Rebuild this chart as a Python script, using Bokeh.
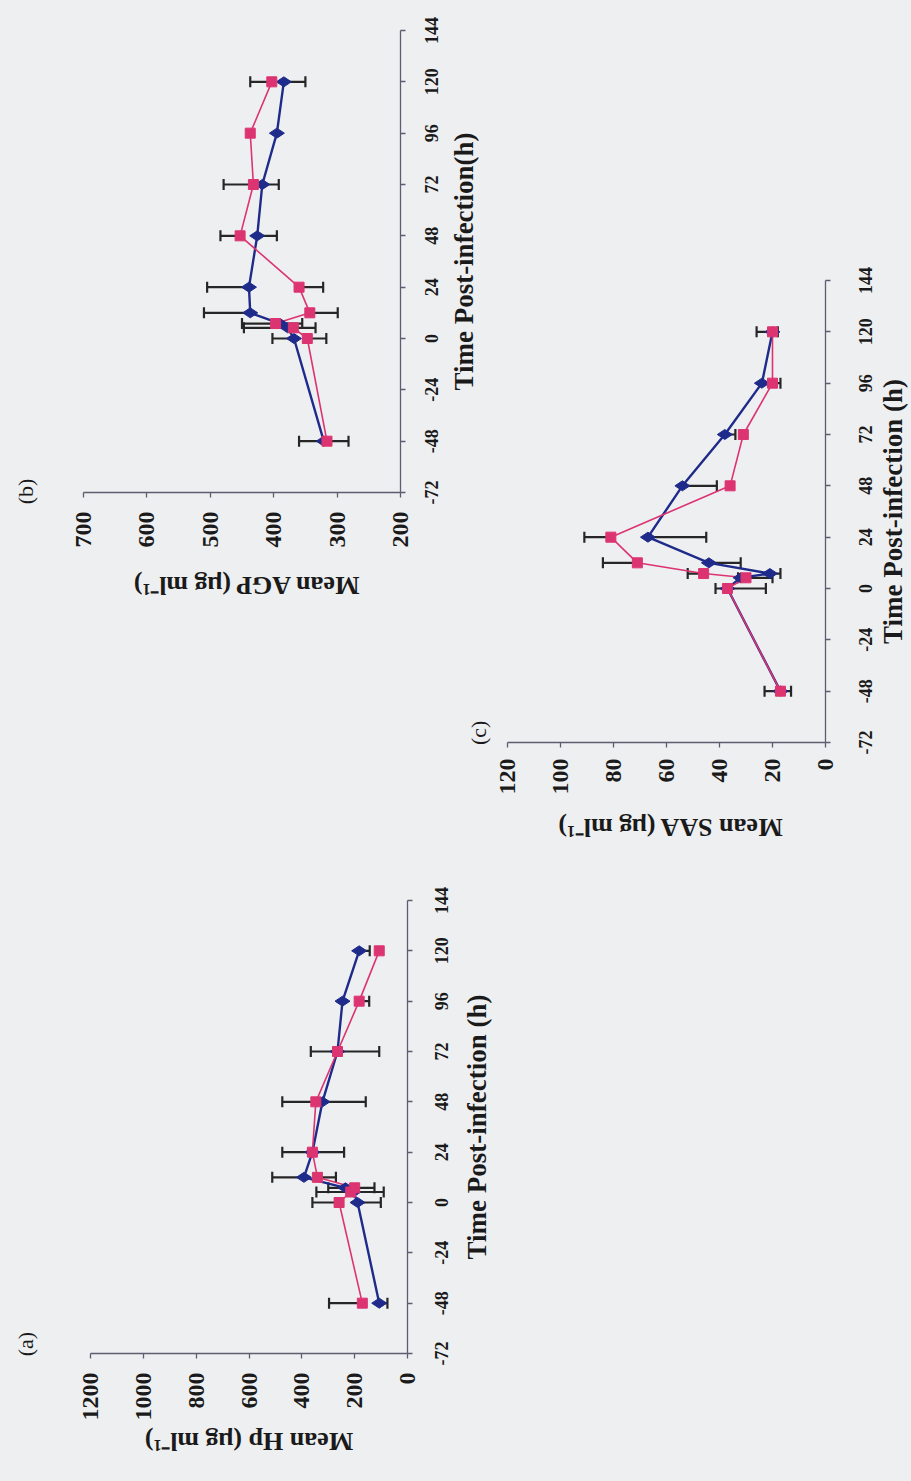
import math
from bokeh.plotting import figure
from bokeh.models import Range1d, FixedTicker, ColumnDataSource, Whisker, TeeHead, LinearAxis
from bokeh.layouts import column
from bokeh.embed import file_html
from bokeh.resources import INLINE

# ---------------- data ----------------
time_h = [-48, 0, 5, 7, 12, 24, 48, 72, 96, 120]
time_ticks = [-72, -48, -24, 0, 24, 48, 72, 96, 120, 144]
time_tick_labels = ["-72", "-48", "-24", "0", "24", "48", "72", "96", "120", "144"]

# (a) Haptoglobin
hp_blue = [107, 189, 205, 235, 392, 360, 322, 265, 246, 183]
hp_pink = [171, 259, 215, 200, 341, 360, 347, 265, 183, 107]
hp_blue_up = [0, 0, 0, 0, 120, 0, 0, 0, 0, 0]
hp_blue_down = [31, 88, 115, 110, 0, 120, 164, 158, 0, 40]
hp_pink_up = [126, 101, 130, 100, 0, 114, 127, 101, 0, 0]
hp_pink_down = [0, 0, 0, 0, 70, 0, 0, 0, 38, 0]
hp_ticks = [0, 200, 400, 600, 800, 1000, 1200]

# (b) AGP
agp_blue = [321, 368, 378, 390, 437, 439, 426, 418, 395, 384]
agp_pink = [316, 347, 369, 397, 343, 360, 453, 432, 437, 403]
agp_blue_up = [0, 34, 69, 60, 73, 66, 0, 0, 0, 0]
agp_blue_down = [39, 0, 0, 0, 0, 0, 31, 26, 0, 34]
agp_pink_up = [44, 0, 0, 0, 0, 0, 31, 47, 0, 34]
agp_pink_down = [0, 30, 35, 42, 44, 38, 0, 0, 0, 0]
agp_ticks = [200, 300, 400, 500, 600, 700]

# (c) SAA
saa_blue = [17, 37, 32, 21, 44, 67, 54, 38, 24, 20]
saa_pink = [17, 37, 30, 46, 71, 81, 36, 31, 20, 20]
saa_blue_up = [0, 0, 0, 0, 0, 0, 0, 0, 0, 0]
saa_blue_down = [4, 14.5, 12, 4, 12, 22, 13, 4, 7, 2]
saa_pink_up = [6, 4.5, 3, 6, 13, 10, 0, 0, 0, 6]
saa_pink_down = [0, 0, 0, 0, 0, 0, 0, 0, 0, 0]
saa_ticks = [0, 20, 40, 60, 80, 100, 120]

# ---------------- style ----------------
BG = "#eeeff1"
BLUE = "#1f2b8a"
PINK = "#dc3470"
ERR = "#262626"
AXIS = "#5a5e70"
TXT = "#1a1a1a"
FONT = "Liberation Serif"


def add_bars(p, t, v, up, down):
    ut = [ti for ti, u in zip(t, up) if u > 0]
    uv = [vi for vi, u in zip(v, up) if u > 0]
    uu = [vi + u for vi, u in zip(v, up) if u > 0]
    if ut:
        src = ColumnDataSource(dict(base=ut, lower=uv, upper=uu))
        p.add_layout(Whisker(source=src, base="base", lower="lower", upper="upper",
                             dimension="height", line_color=ERR, line_width=2.2,
                             lower_head=None,
                             upper_head=TeeHead(size=11, line_color=ERR, line_width=2.2)))
    dt = [ti for ti, d in zip(t, down) if d > 0]
    dv = [vi for vi, d in zip(v, down) if d > 0]
    dd = [vi - d for vi, d in zip(v, down) if d > 0]
    if dt:
        src = ColumnDataSource(dict(base=dt, lower=dd, upper=dv))
        p.add_layout(Whisker(source=src, base="base", lower="lower", upper="upper",
                             dimension="height", line_color=ERR, line_width=2.2,
                             upper_head=None,
                             lower_head=TeeHead(size=11, line_color=ERR, line_width=2.2)))


def make_chart(blue, pink, bu, bd, pu, pd, vticks, S, borders,
               time_title, value_title, panel, panel_t, panel_std,
               t_std, t_title_std, v_std, v_title_std, shift):
    # The chart is built upright (time along x, value along y); the whole square
    # figure is then turned 90 degrees counter-clockwise, as on the scanned page.
    left, right, top, bottom = borders
    p = figure(width=S, height=S, title=None,
               x_range=Range1d(-72, 144), y_range=Range1d(min(vticks), max(vticks)),
               toolbar_location=None, output_backend="svg",
               min_border_left=left, min_border_right=right,
               min_border_top=top, min_border_bottom=bottom)
    p.background_fill_alpha = 0
    p.border_fill_alpha = 0
    p.outline_line_color = None
    p.xgrid.visible = False
    p.ygrid.visible = False

    xa = p.xaxis[0]
    xa.ticker = FixedTicker(ticks=time_ticks)
    xa.major_label_overrides = {t: s for t, s in zip(time_ticks, time_tick_labels)}
    xa.major_label_text_font_size = "18px"
    xa.major_label_standoff = t_std
    xa.axis_label = time_title
    xa.axis_label_standoff = t_title_std
    xa.axis_label_text_font_size = "27px"

    ya = p.yaxis[0]
    ya.ticker = FixedTicker(ticks=vticks)
    ya.major_label_text_font_size = "24px"
    ya.major_label_standoff = v_std
    ya.axis_label = value_title
    ya.axis_label_standoff = v_title_std
    ya.axis_label_text_font_size = "26px"

    for ax in (xa, ya):
        ax.major_label_text_font = FONT
        ax.major_label_text_font_style = "bold"
        ax.major_label_text_color = TXT
        ax.axis_label_text_font = FONT
        ax.axis_label_text_font_style = "bold"
        ax.axis_label_text_color = TXT
        ax.axis_line_color = AXIS
        ax.axis_line_width = 1.3
        ax.major_tick_line_color = AXIS
        ax.major_tick_line_width = 1.3
        ax.major_tick_out = 5
        ax.major_tick_in = 0
        ax.minor_tick_out = 0
        ax.minor_tick_in = 0

    # panel letter, e.g. "(b)", set as the single label of a bare axis above the chart
    lab_ax = LinearAxis(ticker=FixedTicker(ticks=[panel_t]),
                        major_label_overrides={panel_t: panel},
                        axis_line_color=None, major_tick_line_color=None,
                        major_tick_out=0, major_tick_in=0,
                        minor_tick_line_color=None, minor_tick_out=0, minor_tick_in=0,
                        major_label_standoff=panel_std,
                        major_label_text_font=FONT, major_label_text_font_size="22px",
                        major_label_text_font_style="normal", major_label_text_color=TXT)
    p.add_layout(lab_ax, "above")

    add_bars(p, time_h, blue, bu, bd)
    add_bars(p, time_h, pink, pu, pd)

    p.line(x=time_h, y=blue, line_color=BLUE, line_width=2.4)
    p.line(x=time_h, y=pink, line_color=PINK, line_width=1.6)
    p.scatter(x=time_h, y=blue, marker="diamond", size=15, fill_color=BLUE, line_color=BLUE)
    p.scatter(x=time_h, y=pink, marker="square", size=10, fill_color=PINK, line_color=PINK)

    tx, ty = shift
    p.styles = {"transform": f"translate({tx}px, {ty}px) rotate(-90deg)",
                "transform-origin": "0 0"}
    return p


B_S, A_S, C_S = 620, 611, 620

fig_b = make_chart(agp_blue, agp_pink, agp_blue_up, agp_blue_down, agp_pink_up, agp_pink_down,
                   agp_ticks, B_S, (127, 31, 83, 220),
                   "Time Post-infection(h)", "Mean AGP (\u03bcg  ml\u207b\u00b9)", "(b)", -71.5, 46,
                   19, 8, 14, 20, (0, 620))

fig_a = make_chart(hp_blue, hp_pink, hp_blue_up, hp_blue_down, hp_pink_up, hp_pink_down,
                   hp_ticks, A_S, (117, 26, 90, 204),
                   "Time Post-infection (h)", "Mean Hp (\u03bcg ml\u207b\u00b9)", "(a)", -67.5, 53,
                   22, 11, 14, 3, (0, 1481 - B_S))

fig_c = make_chart(saa_blue, saa_pink, saa_blue_up, saa_blue_down, saa_pink_up, saa_pink_down,
                   saa_ticks, C_S, (118, 31, 216, 86),
                   "Time Post-infection (h)", "Mean SAA (\u03bcg  ml\u207b\u00b9)", "(c)", -67.5, 17,
                   28, 3, 11, 15, (291, 870 - B_S - A_S))

layout = column(fig_b, fig_a, fig_c, width=911, height=1481,
                styles={"background-color": BG, "overflow": "hidden"})

with open("out.html", "w") as f:
    f.write(file_html(layout, INLINE))
